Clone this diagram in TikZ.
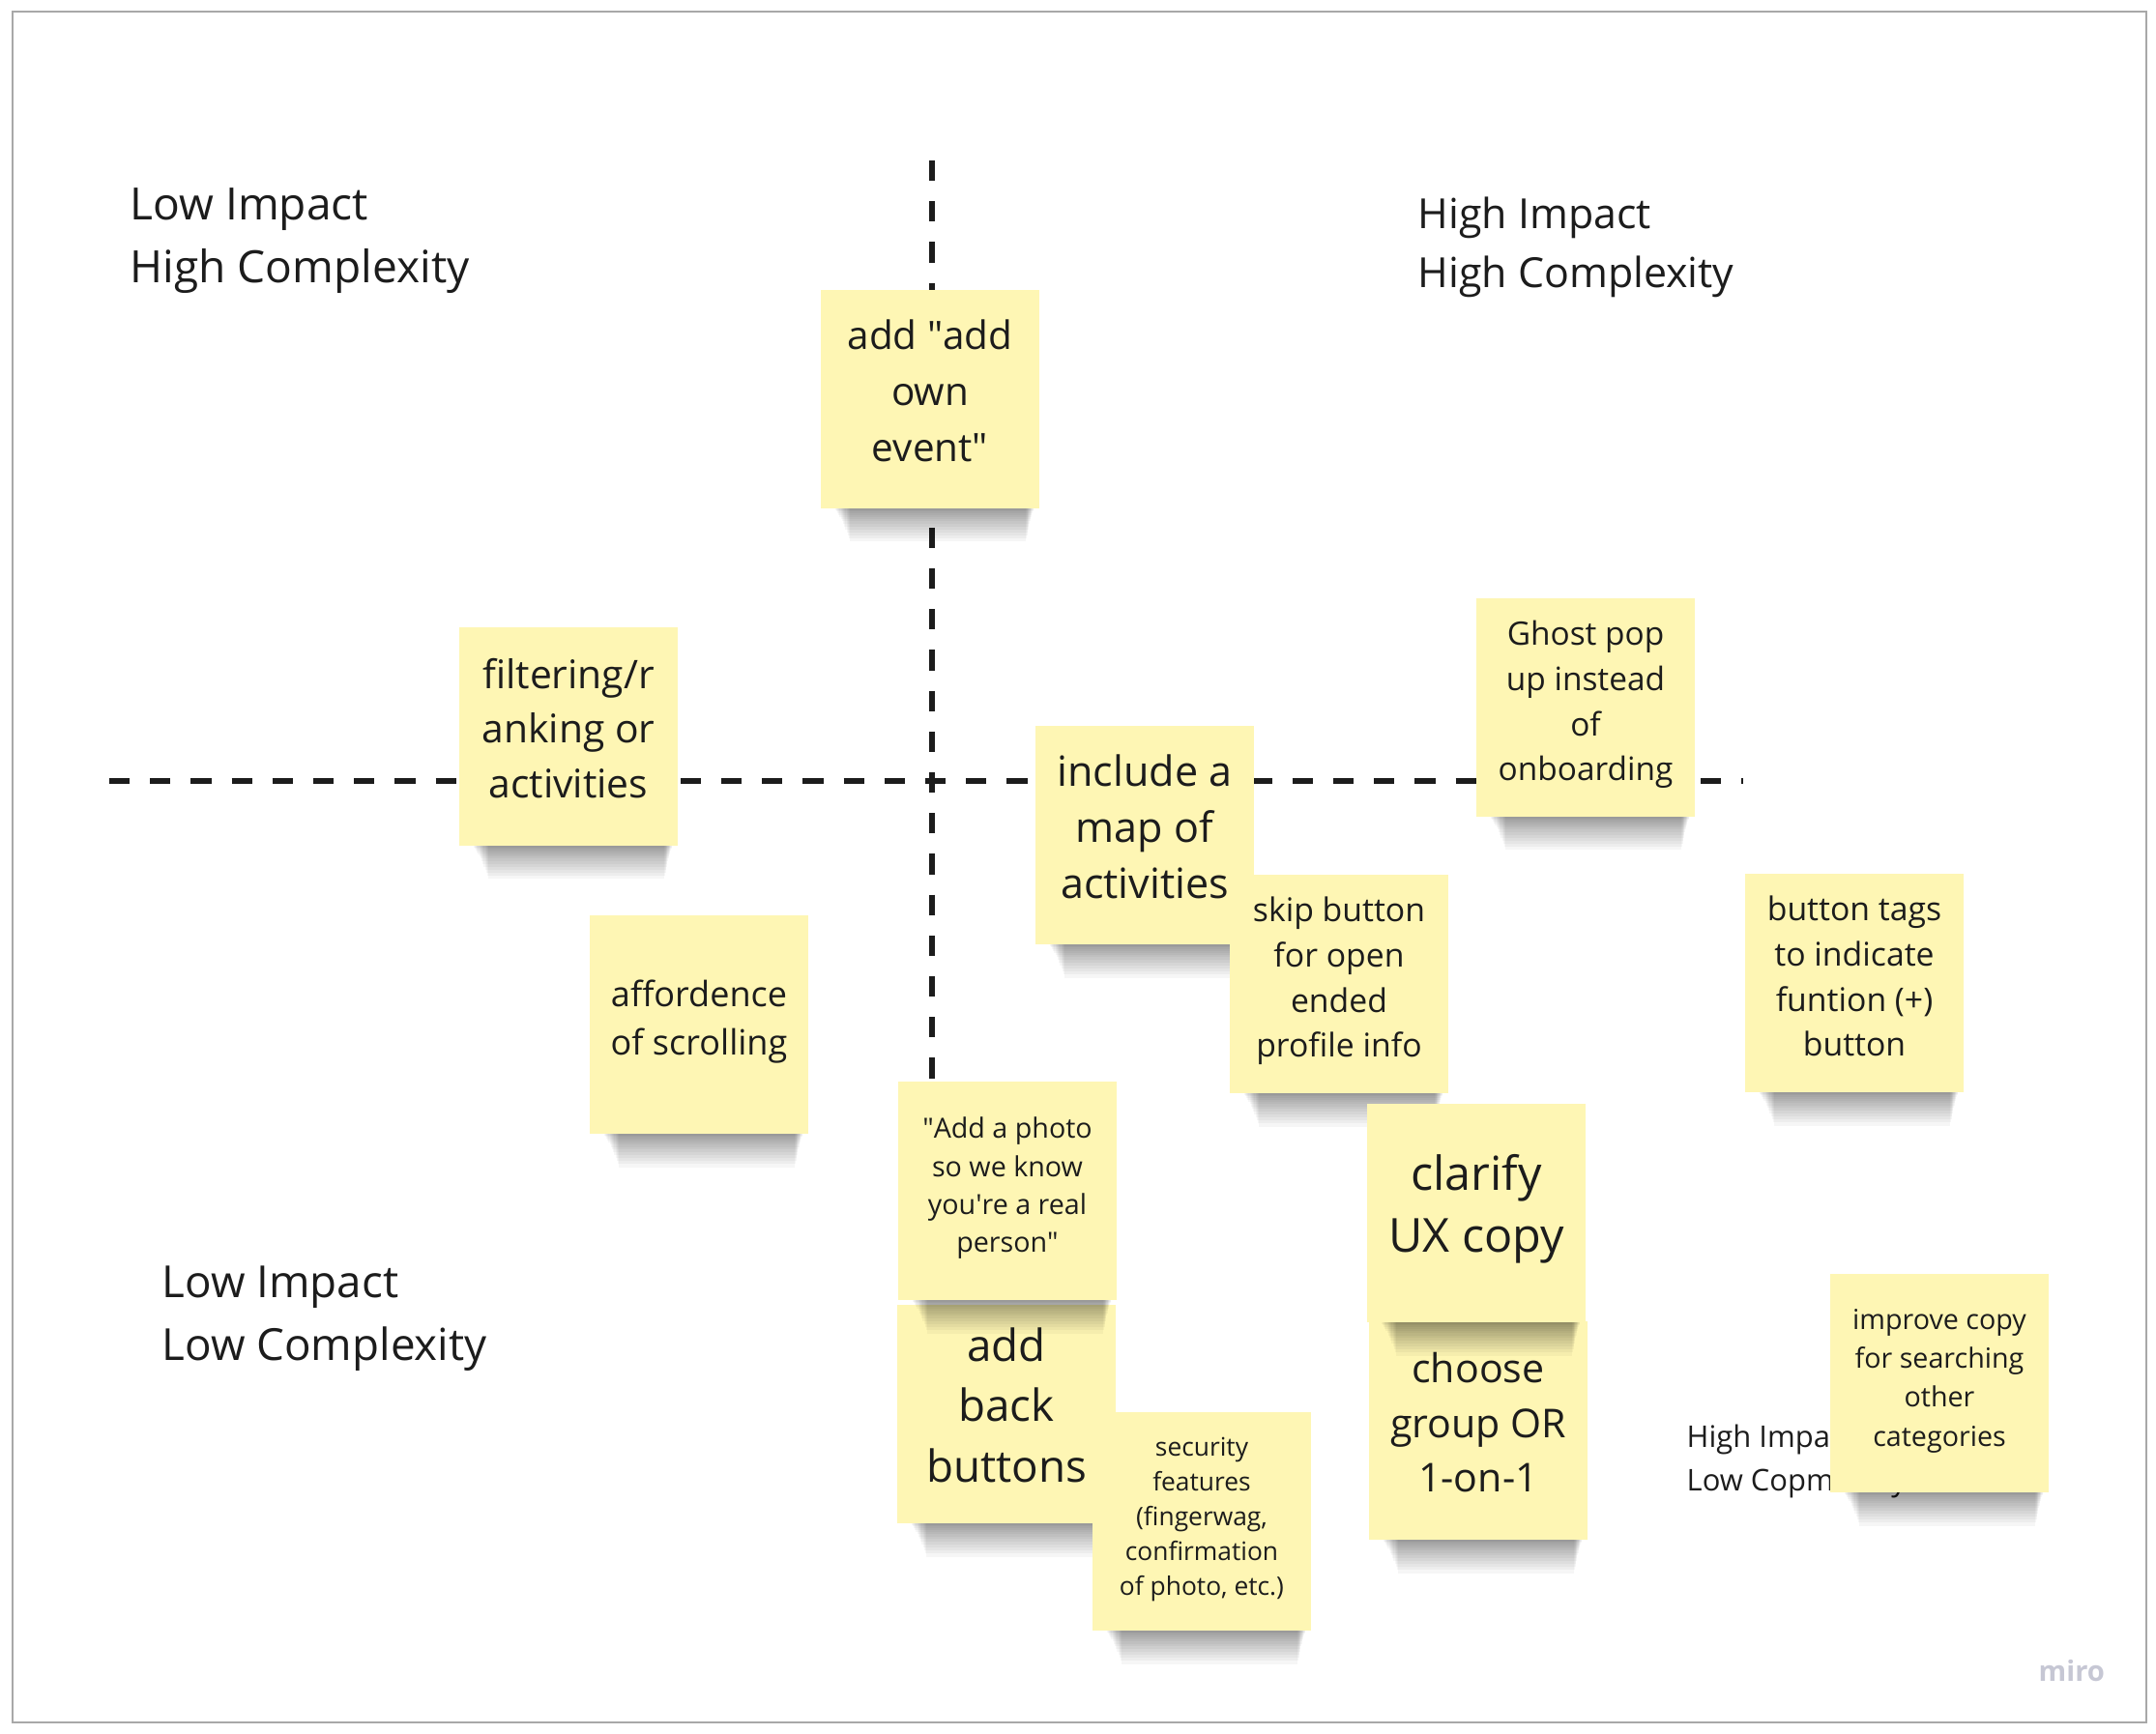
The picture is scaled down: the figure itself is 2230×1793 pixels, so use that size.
\documentclass[tikz,border=0pt]{standalone}
\usepackage{fontspec}
\setmainfont{Open Sans}
\usetikzlibrary{positioning}
\definecolor{sticky}{HTML}{FEF6B4}
\definecolor{ink}{HTML}{1C1C1C}
\definecolor{framegray}{HTML}{A8A8A8}
\definecolor{mirogray}{HTML}{C6C7D4}

% soft shadow under a sticky note centred at (#1,#2)
\newcommand{\noteshadow}[2]{%
  \foreach \k in {1,...,16}
    \fill[black, opacity=0.035] ({#1-102+1.2*\k},{#2+100}) rectangle ({#1+109-0.6*\k},{#2+111+\k*\k*0.08+\k});
}

\begin{document}
\begin{tikzpicture}[x=0.01cm, y=-0.01cm,
    note/.style={fill=sticky, text=ink, minimum width=2.25cm, minimum height=2.25cm, align=center, inner sep=0pt},
    notefont/.style n args={3}{font=\fontsize{#1pt}{#2pt}\selectfont, text depth={0.6*#1pt}, text height={(#3-1)*#2pt+0.94*#1pt}},
    quadlabel/.style={anchor=west, align=left, inner sep=0pt, text=ink},
    axis/.style={ink, line width=1.55pt, dash pattern=on 6pt off 6pt}]
\useasboundingbox (0,0) rectangle (2230,1793);

% Frame
\draw[framegray, line width=0.45pt] (13,12) rectangle (2220,1782);

% Axes
\draw[axis] (113,808) -- (1803,808);
\draw[axis] (964,166) -- (964,1120);

% Quadrant labels
\node[quadlabel, font=\fontsize{13.1pt}{18.5pt}\selectfont] (lowhigh) at (134,249) {Low Impact\\High Complexity};
\node[quadlabel, font=\fontsize{12.2pt}{17.5pt}\selectfont] (highhigh) at (1466,256) {High Impact\\High Complexity};
\node[quadlabel, font=\fontsize{13pt}{18.5pt}\selectfont] (lowlow) at (167,1364) {Low Impact\\Low Complexity};
\node[quadlabel, font=\fontsize{8.8pt}{12.8pt}\selectfont] (highlow) at (1744,1512) {High Impact\\Low Copmlexity};

% Sticky notes
\noteshadow{962}{413}
\node[note, notefont={11.5}{16.5}{3}] (addown) at (962,413) {add \textquotedbl add\\own\\event\textquotedbl};
\noteshadow{588}{762}
\node[note, notefont={11.6}{16}{3}] (filtering) at (588,762) {filtering/r\\anking or\\activities};
\noteshadow{723}{1060}
\node[note, notefont={10.25}{14.2}{2}] (affordence) at (723,1060) {affordence\\of scrolling};
\noteshadow{1184}{864}
\node[note, notefont={12.25}{16.5}{3}] (map) at (1184,864) {include a\\map of\\activities};
\noteshadow{1385}{1018}
\node[note, notefont={9.6}{13.3}{4}] (skip) at (1385,1018) {skip button\\for open\\ended\\profile info};
\noteshadow{1640}{732}
\node[note, notefont={9.5}{13.3}{4}] (ghost) at (1640,732) {Ghost pop\\up instead\\of\\onboarding};
\noteshadow{1918}{1017}
\node[note, notefont={9.6}{13.3}{4}] (tags) at (1918,1017) {button tags\\to indicate\\funtion (+)\\button};
\noteshadow{1041}{1463}
\node[note, notefont={13}{17.8}{3}] (back) at (1041,1463) {add\\back\\buttons};
\noteshadow{1042}{1232}
\node[note, notefont={8.15}{11.2}{4}] (photo) at (1042,1232) {\textquotedbl Add a photo\\so we know\\you\textquotesingle re a real\\person\textquotedbl};
\noteshadow{1243}{1574}
\node[note, notefont={7.5}{10.2}{5}] (security) at (1243,1574) {security\\features\\(fingerwag,\\confirmation\\of photo, etc.)};
\noteshadow{1529}{1480}
\node[note, notefont={11.7}{16}{3}] (choose) at (1529,1480) {choose\\group OR\\1-on-1};
\noteshadow{1527}{1255}
\node[note, notefont={13.8}{18.2}{2}] (clarify) at (1527,1255) {clarify\\UX copy};
\noteshadow{2006}{1431}
\node[note, notefont={8.15}{11.4}{4}] (improve) at (2006,1431) {improve copy\\for searching\\other\\categories};

% Watermark
\node[anchor=base west, inner sep=0pt, text=mirogray, font=\fontsize{8.3pt}{9pt}\selectfont\bfseries] (miro) at (2108,1739) {miro};
\end{tikzpicture}
\end{document}
